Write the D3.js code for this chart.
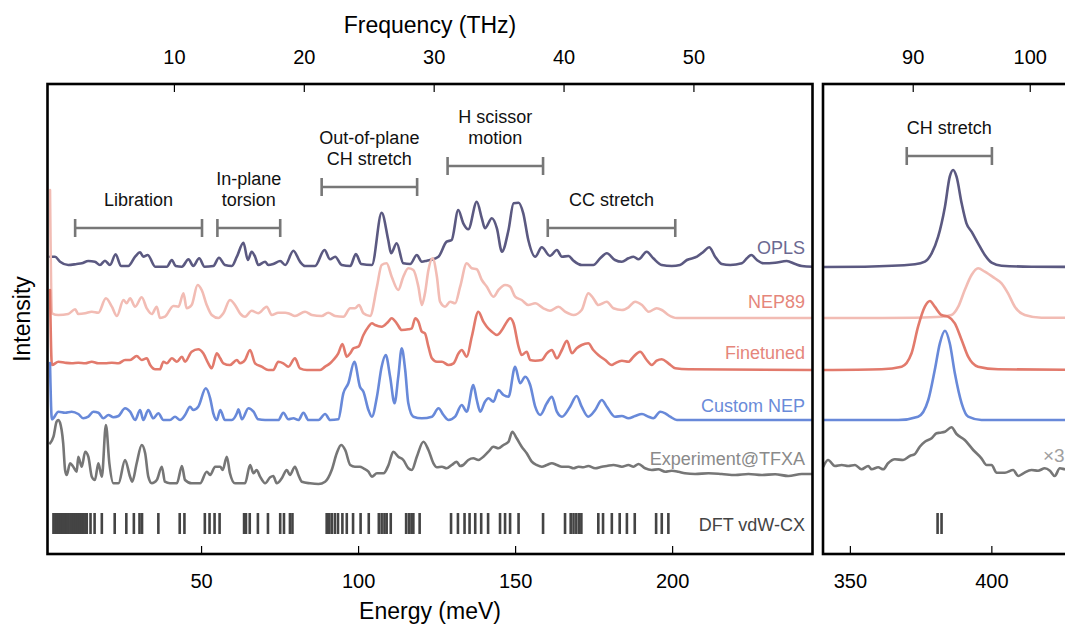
<!DOCTYPE html>
<html>
<head>
<meta charset="utf-8">
<script src="https://cdn.jsdelivr.net/npm/d3@7"></script>
<style>
  body { margin: 0; background: #fff; }
  svg { display: block; font-family: "Liberation Sans", Arial, Helvetica, sans-serif; }
</style>
</head>
<body>
<svg id="chart" width="1065" height="628"></svg>
<script>
// ---------- spectra: [energy (meV), intensity (arb. units, above each trace's offset)] ----------
const oplsLow = [[1.9,10.3],[3.5,10.3],[5.1,5.3],[7.7,2],[10.4,3],[12.0,3.7],[14.1,6],[16.2,5.3],[17.8,2],[19.4,6.3],[21.0,2],[22.8,12.7],[24.5,1],[26.8,1],[29.0,10.3],[30.6,14.7],[31.6,10.3],[33.0,12],[35.4,0.3],[39.1,0.3],[40.7,7],[41.9,1],[43.9,0.3],[46.0,7.7],[47.5,1],[49.4,8.7],[51.1,0.3],[53.9,1],[55.7,9.3],[57.6,2],[59.8,1],[61.4,10.3],[63.5,24.3],[64.9,7],[66.1,15.3],[67.2,10.3],[68.2,2],[70.4,5.3],[71.4,2],[73.0,3],[75.2,6],[76.8,2],[79.4,16.3],[81.5,5.3],[83.1,1],[86.3,1],[89.3,17],[91.1,7.7],[92.7,10.3],[94.8,2],[97.5,1],[99.3,13],[101.0,3],[104.4,2],[107.5,54.3],[109.6,27],[110.5,13.7],[112.3,23.7],[114.4,3.7],[116.6,3],[118.7,12],[120.3,5.3],[121.9,6.3],[122.9,7],[125.6,10.3],[128.2,25.3],[129.8,27],[131.9,57],[133.5,43.7],[135.1,37.7],[137.8,65.3],[139.4,48.7],[140.4,38.7],[142.6,48.7],[144.2,38.7],[145.8,15.3],[147.9,37],[149.5,63.7],[151.1,64.3],[152.6,53.7],[154.2,27],[156.4,10.3],[158.5,19.7],[161.1,11],[163.3,17],[164.9,10.3],[167.0,11],[168.6,6.3],[171.2,2],[174.9,2],[177.1,8.7],[179.2,13.7],[181.8,7],[184.0,5.3],[186.1,8.7],[187.7,10.3],[189.3,7.7],[191.9,15.3],[194.0,8.7],[196.7,2],[199.9,1],[202.5,2],[204.7,7],[207.9,10.3],[210.0,15.3],[211.8,19.7],[213.7,10.3],[215.8,3],[218.5,2],[222.2,3.7],[223.8,8.7],[225.2,12],[227.0,7],[229.1,3.7],[232.8,4.3],[236.5,6],[239.2,3],[241.3,1],[245.0,0.3]];

const nep89Low = [[1.9,128],[2.5,4.7],[4.6,3],[7.7,4],[9.9,8.7],[10.9,4],[13.1,4.7],[15.2,6.3],[17.3,5.3],[19.7,19.7],[21.6,11.3],[23.2,2],[25.3,18],[26.3,14.7],[27.4,19.7],[29.0,11.3],[31.1,20.7],[32.7,9.7],[34.3,4],[35.9,11.3],[36.9,0],[38.5,1.3],[41.2,12],[42.8,11.3],[44.4,24.7],[45.4,9.7],[47.0,13],[48.9,33],[50.2,28],[51.8,13],[53.4,3],[55.5,0],[57.1,4.7],[59.2,18],[60.8,13],[62.4,4.7],[64.0,1.3],[66.1,7.3],[68.2,4.7],[70.9,11.3],[72.5,3],[74.6,5.3],[76.8,5.3],[78.3,4],[79.9,2],[83.1,6.3],[85.3,3],[88.4,2],[90.5,5.3],[92.7,2],[95.3,1.3],[97.5,9.7],[99.0,9.7],[100.3,13],[101.7,4.7],[103.8,2],[106.0,31.3],[107.5,53],[109.1,54.7],[110.7,41.3],[112.8,28],[114.4,41.3],[116.0,49.7],[117.6,48],[119.2,31.3],[120.3,13],[121.3,24.7],[122.4,48],[123.7,59.7],[125.1,41.3],[126.1,16.3],[127.7,11.3],[129.3,16.3],[130.9,14.7],[132.5,31.3],[134.6,54.7],[136.2,49.7],[137.8,48.7],[139.4,38],[141.0,31.3],[143.1,21.3],[144.7,28],[146.8,33],[148.4,31.3],[150.0,21.3],[152.1,18],[154.2,13],[156.4,14.7],[159.0,9.7],[161.1,7.3],[163.8,11.3],[165.9,6.3],[168.6,3],[171.2,8],[173.3,24.7],[174.9,19.7],[176.5,13],[179.2,16.3],[181.3,9.7],[184.0,8],[186.1,10.7],[188.2,16.3],[190.4,13],[192.5,6.3],[195.1,9.7],[196.7,8],[198.8,3],[201.5,0],[205.2,0],[245.0,0]];

const finetunedLow = [[1.9,80],[2.5,5],[4.6,8.3],[6.7,7.3],[8.8,6.7],[10.9,7.3],[13.1,6.7],[15.2,8.3],[17.3,6.7],[19.4,6.7],[21.6,7.3],[23.7,6.7],[25.8,10],[27.4,10],[29.5,14],[31.1,10],[32.7,11.7],[33.8,5],[35.4,0.7],[36.9,0.7],[38.0,8.3],[39.1,6.7],[40.7,11.7],[42.3,8.3],[43.9,13.3],[44.9,8.3],[47.0,18.3],[49.1,20.7],[50.7,16.7],[52.3,6.7],[53.4,1.7],[55.0,16.7],[56.1,11.7],[57.1,6.7],[59.2,5],[61.4,10],[62.4,6.7],[64.0,10],[65.6,20],[67.2,6.7],[69.3,3.3],[71.4,0],[73.0,0],[74.6,8.3],[76.2,6.7],[77.8,3.3],[79.9,11.7],[81.5,1.7],[83.7,0],[87.9,0],[89.5,3.3],[91.1,6.7],[92.1,10],[93.7,16.7],[95.0,26],[96.4,13.3],[97.5,16.7],[98.5,21.7],[100.1,23.3],[101.7,35],[103.3,43.3],[104.4,46.7],[105.4,45],[107.5,43.3],[109.6,48.3],[110.7,51.7],[112.3,46.7],[113.9,40],[116.0,40.7],[117.1,41.7],[118.2,51.7],[119.2,48.3],[120.3,38.3],[121.3,36.7],[122.4,23.3],[123.5,11.7],[125.1,8.3],[126.7,8.3],[128.8,5],[130.4,6.7],[132.0,16.7],[133.0,20],[134.6,13.3],[136.2,33.3],[138.3,58.3],[139.9,48.3],[141.0,43.3],[142.6,38.3],[144.2,35],[145.8,40],[147.4,48.3],[148.4,51.7],[149.5,46.7],[151.1,23.3],[152.1,15],[153.7,18.3],[154.8,10],[156.4,9.3],[158.5,10],[160.1,16.7],[161.7,20],[163.3,11.7],[164.9,20],[166.5,29.3],[168.1,16.7],[169.6,21.7],[171.2,25],[173.3,26.7],[174.9,20],[176.5,15],[178.7,10],[180.8,5],[181.8,6.7],[184.0,9.3],[186.1,8.3],[187.7,13.3],[189.8,18.3],[191.9,10],[193.5,5],[195.1,9.3],[196.7,10.7],[198.8,6.7],[201.0,1.7],[205.2,0.7],[245.0,0]];

const customLow = [[1.9,57],[2.5,0.7],[4.6,8.3],[6.7,7.3],[8.8,8.3],[10.9,6],[12.5,1.7],[14.1,3.3],[15.7,8.3],[17.3,7.3],[18.9,1.7],[20.5,5],[22.1,2.7],[23.7,4],[25.8,11.7],[27.4,8.3],[29.0,0],[30.6,10],[31.6,0],[33.2,10],[34.8,1.7],[36.4,6.7],[38.0,0],[40.1,0],[41.7,3.3],[43.3,0],[44.9,5],[46.5,13.3],[47.5,10],[49.1,13.3],[51.5,31.7],[52.9,21.7],[53.9,6.7],[55.0,0],[56.1,10],[57.6,0],[59.8,0],[61.4,6.7],[61.9,10.7],[63.0,0.7],[65.1,11.7],[66.7,8.3],[68.2,0.7],[70.4,0],[74.6,0],[76.2,7.3],[77.8,0.7],[79.4,1.7],[81.0,0],[82.6,7.3],[84.2,0],[87.4,0],[89.5,6],[91.1,0],[93.7,0.7],[95.3,26.7],[96.9,36.7],[98.8,58.3],[100.6,33.3],[101.7,28.3],[103.3,10],[104.4,3.3],[106.0,23.3],[107.5,53.3],[108.8,65],[110.2,43.3],[111.6,16.7],[112.8,43.3],[113.9,71.7],[115.0,50],[116.0,16.7],[117.6,3.3],[120.3,1.7],[123.5,3.3],[125.6,11.7],[127.2,5],[128.8,0],[130.9,3.3],[133.0,15],[134.6,8.3],[136.7,35],[137.8,20],[138.9,8.3],[140.4,18.3],[141.5,21.7],[143.1,18.3],[144.7,30],[146.3,25],[147.9,23.3],[150.0,53.3],[151.6,36.7],[153.2,43.3],[154.8,35],[156.4,13.3],[158.0,5],[160.1,16.7],[161.7,23.3],[163.3,8.3],[164.9,3.3],[167.5,13.3],[169.6,24],[171.2,13.3],[173.3,3.3],[175.5,10],[177.6,20],[179.2,13.3],[181.8,3.3],[184.0,4],[186.1,1.7],[188.2,4],[190.4,6],[192.5,3.3],[194.0,1.7],[196.2,8.3],[197.8,6.7],[199.4,3.3],[201.5,0],[245.0,0]];

const experimentLow = [[1.9,40.7],[3.0,47.3],[4.0,62.3],[4.6,64],[5.6,54],[6.1,40.7],[6.7,14],[7.2,9],[8.3,20.7],[9.3,17.3],[10.4,12.3],[10.9,27.3],[12.0,17.3],[13.1,32.3],[14.1,27.3],[15.2,7.3],[16.2,4],[17.3,20.7],[18.4,7.3],[19.7,59],[20.8,20.7],[22.1,0.7],[23.7,0.7],[25.8,24],[27.4,7.3],[28.1,2.3],[29.5,20.7],[31.1,39],[32.2,30.7],[33.2,7.3],[34.3,0.7],[35.9,4],[37.5,17.3],[38.5,2.3],[40.1,0.7],[42.3,0.7],[43.9,18],[44.9,4],[47.0,0.7],[49.7,0.7],[51.8,12.3],[52.9,9],[54.5,17.3],[56.1,17.3],[56.9,14],[58.2,27.3],[59.2,10.7],[60.8,0.7],[62.4,0.7],[64.0,0.7],[65.6,19],[66.7,10.7],[67.7,14],[68.8,7.3],[70.4,0.7],[72.0,6.7],[73.0,8],[74.1,0.7],[75.7,5.7],[77.3,14],[78.3,9],[79.9,17.3],[81.0,9],[82.1,2.3],[84.7,0.7],[87.4,0],[89.5,2.3],[91.6,14],[93.2,30.7],[94.6,39],[95.9,34],[97.5,19],[99.0,17.3],[100.6,17.3],[101.7,15.7],[103.3,12.3],[104.4,7.3],[106.0,10.7],[108.1,10.7],[109.7,19],[111.2,32.3],[112.8,27.3],[114.4,24],[116.0,15.7],[117.1,14],[118.7,27.3],[120.8,42.3],[122.4,34],[124.0,20.7],[125.1,16.7],[126.7,17.3],[128.2,15.7],[129.8,19],[131.4,22.3],[132.5,18],[133.5,19],[135.1,24],[136.7,25.7],[138.3,24],[139.9,27.3],[141.5,32.3],[143.1,37.3],[144.7,35.7],[146.3,39],[147.9,42.3],[149.1,52.3],[150.5,45.7],[152.1,37.3],[153.7,30.7],[155.3,22.3],[156.9,19],[158.5,17.3],[160.1,19],[161.7,20.7],[163.3,19],[164.9,17.3],[167.0,17.3],[168.6,15.7],[170.2,17.3],[171.7,16.7],[173.3,18],[175.5,15.7],[177.6,17.3],[179.2,18],[181.3,19],[184.0,17.3],[186.1,19],[187.7,17.3],[189.3,20],[191.4,15.7],[193.5,14],[195.6,14.7],[197.8,12.3],[199.9,13.3],[202.0,12.3],[204.1,10.7],[207.3,10],[211.6,10.7],[215.8,10],[220.1,9],[224.3,10],[228.5,9],[232.8,9.7],[237.0,8],[241.3,10],[245.0,10]];

// CH-stretch window
const oplsHigh = [[340.6,0],[355.3,0.3],[373.0,2.7],[376.5,5.3],[378.9,13.7],[381.2,30.3],[383.6,60.3],[385.3,90.3],[386.5,97],[387.7,90.3],[389.5,63.7],[391.2,43.7],[393.0,35.3],[395.3,23.7],[397.7,12],[400.1,4.3],[403.6,1.3],[414.2,0.3],[440,0]];
const nep89High = [[340.6,0],[361.2,0],[373.0,0.3],[382.4,1.3],[385.9,3],[388.3,11.3],[390.6,28],[393.0,43],[395.3,49.7],[397.7,46.3],[401.2,39.7],[403.6,34.7],[405.9,24.7],[408.3,11.3],[411.8,3],[417.7,0.3],[440,0]];
const finetunedHigh = [[340.6,0],[361.2,0.7],[368.3,3.3],[371.8,16.7],[374.1,43.3],[376.5,63.3],[378.3,69],[380.0,63.3],[382.4,55],[384.7,53.3],[387.1,46.7],[389.5,30],[391.8,13.3],[395.3,3.3],[402.4,0.7],[440,0]];
const customHigh = [[340.6,0],[367.1,0],[374.1,3.3],[377.7,20],[380.0,50],[381.8,76.7],[383.6,89.3],[385.3,76.7],[387.1,46.7],[389.5,16.7],[391.8,3.3],[396.5,0],[440,0]];
const experimentHigh = [[340.6,17.3],[342.3,24],[344.7,18],[347.1,19],[349.4,18],[351.8,19],[354.1,14.7],[356.5,18],[357.7,14.7],[360.0,16.7],[361.8,14.7],[363.5,20.7],[365.9,24.7],[368.8,24],[371.2,28],[373.0,30],[374.7,37.3],[376.5,42.3],[378.9,45.7],[380.6,50.7],[381.8,51.3],[383.6,52.3],[385.9,56.7],[387.7,50],[390.6,44],[393.6,34],[396.5,25.7],[398.3,19],[400.1,19],[401.8,11.3],[404.8,11.3],[407.7,14],[409.5,8],[411.3,10.7],[414.2,14],[416.5,13.3],[418.9,15.7],[420.7,13.3],[422.4,8],[424.2,15.7],[426.0,14.7],[430,13]];

// DFT vdW-CX mode energies (meV)
const dftModesLow = [3.0,3.6,4.2,4.8,5.4,6.0,6.6,7.2,7.8,8.4,9.0,9.6,10.2,10.8,11.4,12.0,12.6,13.2,13.6,14.8,16.1,18.4,22.5,26.2,28.6,30.4,31.2,36.4,43.2,44.7,51.2,52.7,54.3,55.9,63.7,64.3,65.5,68.1,71.3,75.2,76.4,78.3,79.1,90.0,90.8,91.6,92.6,93.6,95.0,96.4,98.4,100.8,103.4,106.6,107.5,108.4,109.1,110.4,115.3,116.2,117.0,117.6,119.6,129.6,131.8,133.9,135.5,137.3,139.2,141.4,145.2,146.8,148.4,151.1,158.9,165.9,167.7,168.6,169.5,170.4,171.1,176.5,178.0,180.8,183.3,185.6,188.1,194.9,196.7,198.8];
const dftModesHigh = [381.0, 382.4];

// trace names, vertical offsets and colours
const seriesNames = ["OPLS", "NEP89", "Finetuned", "Custom NEP", "Experiment@TFXA"];
const seriesOffsets = [287, 236, 184, 134, 70];
const lowData = [oplsLow, nep89Low, finetunedLow, customLow, experimentLow];
const highData = [oplsHigh, nep89High, finetunedHigh, customHigh, experimentHigh];
const lineColors = ["#5b5981", "#f2bcb4", "#e27a6c", "#6889d9", "#767676"];
const labelColors = ["#6b6991", "#e5867b", "#e5867b", "#6a8bd9", "#8a8a8a"];

// vibrational band annotations (meV)
const bandNames = [["Libration"], ["In-plane", "torsion"], ["Out-of-plane", "CH stretch"], ["H scissor", "motion"], ["CC stretch"]];
const bandStart = [9.9, 55.2, 88.4, 128.5, 160.4];
const bandEnd = [50.3, 75.2, 118.8, 158.9, 201.0];
const chBand = { name: "CH stretch", start: 370.1, end: 400.2 };

// axis ticks
const energyTicksLow = [50, 100, 150, 200];
const energyTicksHigh = [350, 400];
const freqTicksLow = [10, 20, 30, 40, 50];
const freqTicksHigh = [90, 100];
const meVperTHz = 4.135667;

// ---------- layout ----------
const svg = d3.select("#chart");
const plotTop = 84, plotBottom = 554;
const x = d3.scaleLinear().domain([1.1, 244.7]).range([47.5, 812.5]);
const xh = d3.scaleLinear().domain([340.5, 438.4]).range([823, 1100]);
const y = d3.scaleLinear().domain([0, 470]).range([plotBottom, plotTop]);

const defs = svg.append("defs");
defs.append("clipPath").attr("id", "clipLow").append("rect")
  .attr("x", x.range()[0]).attr("y", plotTop).attr("width", x.range()[1] - x.range()[0]).attr("height", plotBottom - plotTop);
defs.append("clipPath").attr("id", "clipHigh").append("rect")
  .attr("x", xh.range()[0]).attr("y", plotTop).attr("width", xh.range()[1] - xh.range()[0]).attr("height", plotBottom - plotTop);

function drawPanel(xs, clipId, datasets, modes) {
  const g = svg.append("g").attr("clip-path", `url(#${clipId})`);
  datasets.forEach((data, i) => {
    const off = seriesOffsets[i];
    const line = d3.line()
      .x(d => xs(d[0]))
      .y(d => y(d[1] + off))
      .curve(d3.curveMonotoneX);
    g.append("path").datum(data)
      .attr("d", line)
      .attr("fill", "none")
      .attr("stroke", lineColors[i])
      .attr("stroke-width", 2.6)
      .attr("stroke-linejoin", "round")
      .attr("stroke-linecap", "round");
  });
  g.selectAll("line.dft").data(modes).join("line")
    .attr("class", "dft")
    .attr("x1", d => xs(d)).attr("x2", d => xs(d))
    .attr("y1", y(20)).attr("y2", y(41))
    .attr("stroke", "#444").attr("stroke-width", 2.6);
}

drawPanel(x, "clipLow", lowData, dftModesLow);
drawPanel(xh, "clipHigh", highData, dftModesHigh);

// trace labels
const labelBaselines = [254, 308, 359, 412, 465];
seriesNames.forEach((name, i) => {
  svg.append("text")
    .attr("x", 805).attr("y", labelBaselines[i])
    .attr("text-anchor", "end")
    .attr("font-size", 18)
    .attr("fill", labelColors[i])
    .text(name);
});
svg.append("text").attr("x", 805).attr("y", 531).attr("text-anchor", "end")
  .attr("font-size", 18).attr("fill", "#444").text("DFT vdW-CX");
svg.append("text").attr("x", 1043).attr("y", 462)
  .attr("font-size", 19).attr("fill", "#a0a0a0").text("×3");

// band annotations
const bandY = [228, 228, 187, 166, 228];
function bracket(xs, s, e, yy, lines) {
  const g = svg.append("g").attr("stroke", "#777").attr("stroke-width", 2.6);
  g.append("line").attr("x1", xs(s)).attr("x2", xs(e)).attr("y1", yy).attr("y2", yy);
  g.append("line").attr("x1", xs(s)).attr("x2", xs(s)).attr("y1", yy - 9).attr("y2", yy + 9);
  g.append("line").attr("x1", xs(e)).attr("x2", xs(e)).attr("y1", yy - 9).attr("y2", yy + 9);
  const cx = (xs(s) + xs(e)) / 2;
  lines.forEach((t, k) => {
    svg.append("text")
      .attr("x", cx)
      .attr("y", yy - 22 - (lines.length - 1 - k) * 21)
      .attr("text-anchor", "middle")
      .attr("font-size", 18)
      .attr("fill", "#111")
      .text(t);
  });
}
bandNames.forEach((lines, i) => bracket(x, bandStart[i], bandEnd[i], bandY[i], lines));
bracket(xh, chBand.start, chBand.end, 156, [chBand.name]);

// axes (ticks point inward)
function styleAxis(g) {
  g.select(".domain").remove();
  g.selectAll(".tick line").attr("stroke", "#000").attr("stroke-width", 1.2);
  g.selectAll(".tick text").attr("font-size", 20).attr("fill", "#000")
    .attr("font-family", '"Liberation Sans", Arial, Helvetica, sans-serif');
}
svg.append("g").attr("transform", `translate(0,${plotBottom})`)
  .call(d3.axisBottom(x).tickValues(energyTicksLow).tickSize(-8).tickPadding(20).tickFormat(d3.format("d")))
  .call(styleAxis);
svg.append("g").attr("transform", `translate(0,${plotBottom})`)
  .call(d3.axisBottom(xh).tickValues(energyTicksHigh).tickSize(-8).tickPadding(20).tickFormat(d3.format("d")))
  .call(styleAxis);

const fLow = d3.scaleLinear().domain(x.domain().map(v => v / meVperTHz)).range(x.range());
const fHigh = d3.scaleLinear().domain(xh.domain().map(v => v / meVperTHz)).range(xh.range());
svg.append("g").attr("transform", `translate(0,${plotTop})`)
  .call(d3.axisTop(fLow).tickValues(freqTicksLow).tickSize(-8).tickPadding(20).tickFormat(d3.format("d")))
  .call(styleAxis);
svg.append("g").attr("transform", `translate(0,${plotTop})`)
  .call(d3.axisTop(fHigh).tickValues(freqTicksHigh).tickSize(-8).tickPadding(20).tickFormat(d3.format("d")))
  .call(styleAxis);

// panel frames
[[x.range()[0], x.range()[1]], [xh.range()[0], xh.range()[1]]].forEach(([a, b]) => {
  svg.append("rect").attr("x", a).attr("y", plotTop).attr("width", b - a).attr("height", plotBottom - plotTop)
    .attr("fill", "none").attr("stroke", "#000").attr("stroke-width", 2.6);
});

// axis titles
svg.append("text").attr("x", 430).attr("y", 33).attr("text-anchor", "middle")
  .attr("font-size", 23).attr("fill", "#000").text("Frequency (THz)");
svg.append("text").attr("x", 430).attr("y", 619).attr("text-anchor", "middle")
  .attr("font-size", 23).attr("fill", "#000").text("Energy (meV)");
svg.append("text").attr("transform", "translate(30,319) rotate(-90)").attr("text-anchor", "middle")
  .attr("font-size", 23).attr("fill", "#000").text("Intensity");
</script>
</body>
</html>
